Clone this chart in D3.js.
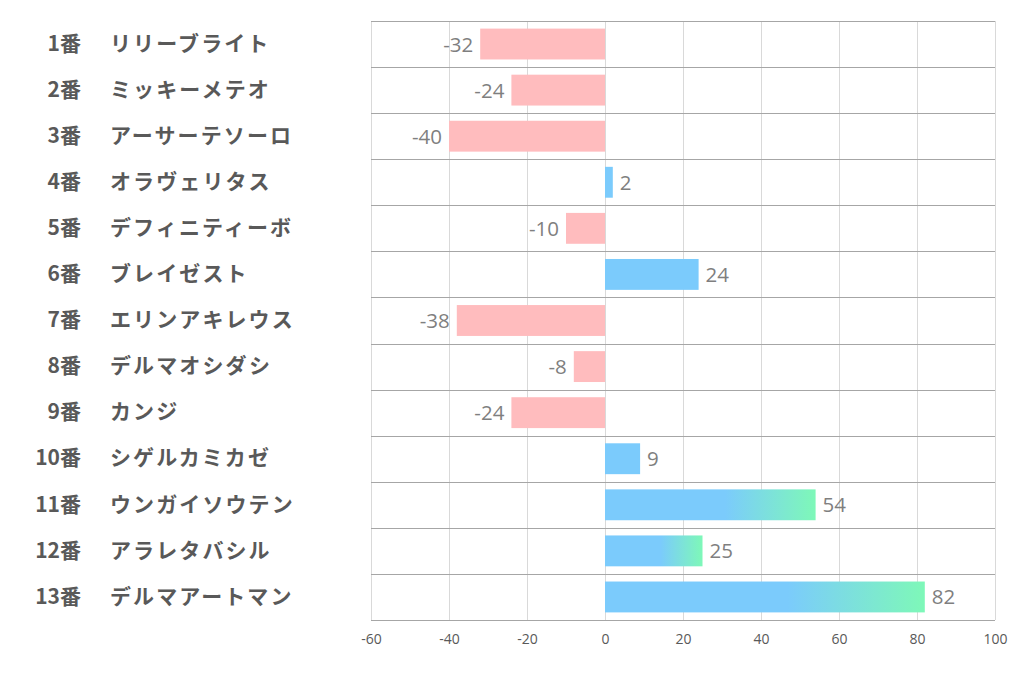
<!DOCTYPE html>
<html><head><meta charset="utf-8">
<script src="https://cdn.jsdelivr.net/npm/d3@7"></script>
<style>body{margin:0;background:#fff;}</style>
</head><body>
<svg id="c" width="1022" height="678"></svg>
<script>
const numbers = ["1番","2番","3番","4番","5番","6番","7番","8番","9番","10番","11番","12番","13番"];
const names = ["リリーブライト","ミッキーメテオ","アーサーテソーロ","オラヴェリタス","デフィニティーボ","ブレイゼスト","エリンアキレウス","デルマオシダシ","カンジ","シゲルカミカゼ","ウンガイソウテン","アラレタバシル","デルマアートマン"];
const values = [-32,-24,-40,2,-10,24,-38,-8,-24,9,54,25,82];
const gradientRows = ["11番","12番","13番"];
const xTicks = [-60,-40,-20,0,20,40,60,80,100];

(function(){
const svg = d3.select("#c");
const pL = 371, pR = 995, pT = 21, pB = 620;
const x = d3.scaleLinear().domain([-60,100]).range([pL,pR]);
const y = d3.scaleBand().domain(numbers).range([pT,pB]).paddingInner(0.33).paddingOuter(0.165);

// vertical gridlines
svg.append("g").selectAll("line").data(xTicks).join("line")
  .attr("x1",d=>Math.round(x(d))+0.5).attr("x2",d=>Math.round(x(d))+0.5).attr("y1",pT).attr("y2",pB)
  .attr("stroke","#d9d9d9").attr("stroke-width",1);
// horizontal row separators
const seps = d3.range(numbers.length+1);
svg.append("g").selectAll("line").data(seps).join("line")
  .attr("x1",pL).attr("x2",pR)
  .attr("y1",i=>Math.round(pT+i*(pB-pT)/numbers.length)+0.5)
  .attr("y2",i=>Math.round(pT+i*(pB-pT)/numbers.length)+0.5)
  .attr("stroke","#a6a6a6").attr("stroke-width",1);

// gradient
const defs = svg.append("defs");
const grad = defs.append("linearGradient").attr("id","bg").attr("x1","0").attr("x2","1").attr("y1","0").attr("y2","0");
grad.append("stop").attr("offset","0.57").attr("stop-color","#7bcbfc");
grad.append("stop").attr("offset","1").attr("stop-color","#7ef8b8");

const data = numbers.map((n,i)=>({n, name:names[i], v:values[i]}));
svg.append("g").selectAll("rect").data(data).join("rect")
  .attr("x",d=>x(Math.min(0,d.v))).attr("width",d=>Math.abs(x(d.v)-x(0)))
  .attr("y",d=>y(d.n)).attr("height",y.bandwidth())
  .attr("fill",d=>d.v<0?"#ffbcbe":(gradientRows.includes(d.n)?"url(#bg)":"#7bcbfc"));

// value labels
svg.append("g").selectAll("text").data(data).join("text")
  .attr("x",d=>d.v<0?x(d.v)-7:x(d.v)+7)
  .attr("y",d=>y(d.n)+y.bandwidth()/2+2)
  .attr("text-anchor",d=>d.v<0?"end":"start")
  .attr("dominant-baseline","middle")
  .attr("font-family","'Open Sans','Noto Sans',sans-serif").attr("font-size",20.5)
  .attr("fill","#7f7f7f")
  .text(d=>d.v);

// category labels
const lab = svg.append("g");
lab.selectAll("text.num").data(data).join("text").attr("class","num")
  .attr("x",81).attr("y",d=>y(d.n)+y.bandwidth()/2+1)
  .attr("text-anchor","end").attr("dominant-baseline","middle")
  .attr("font-family","'Noto Sans CJK JP',sans-serif").attr("font-weight","bold").attr("font-size",21)
  .attr("fill","#595959").text(d=>d.n);
lab.selectAll("text.nm").data(data).join("text").attr("class","nm")
  .attr("x",110).attr("y",d=>y(d.n)+y.bandwidth()/2+1)
  .attr("text-anchor","start").attr("dominant-baseline","middle")
  .attr("font-family","'Noto Sans CJK JP',sans-serif").attr("font-weight","bold").attr("font-size",21)
  .attr("letter-spacing",2.1)
  .attr("fill","#595959").text(d=>d.name);

// x axis tick labels
const ax = svg.append("g").attr("transform",`translate(0,${pB})`)
  .call(d3.axisBottom(x).tickValues(xTicks).tickFormat(d=>String(d)).tickSize(0).tickPadding(14));
ax.select(".domain").remove();
ax.selectAll("text").attr("font-family","'Open Sans','Noto Sans',sans-serif").attr("font-size",14).attr("fill","#595959");
})();
</script>
</body></html>
